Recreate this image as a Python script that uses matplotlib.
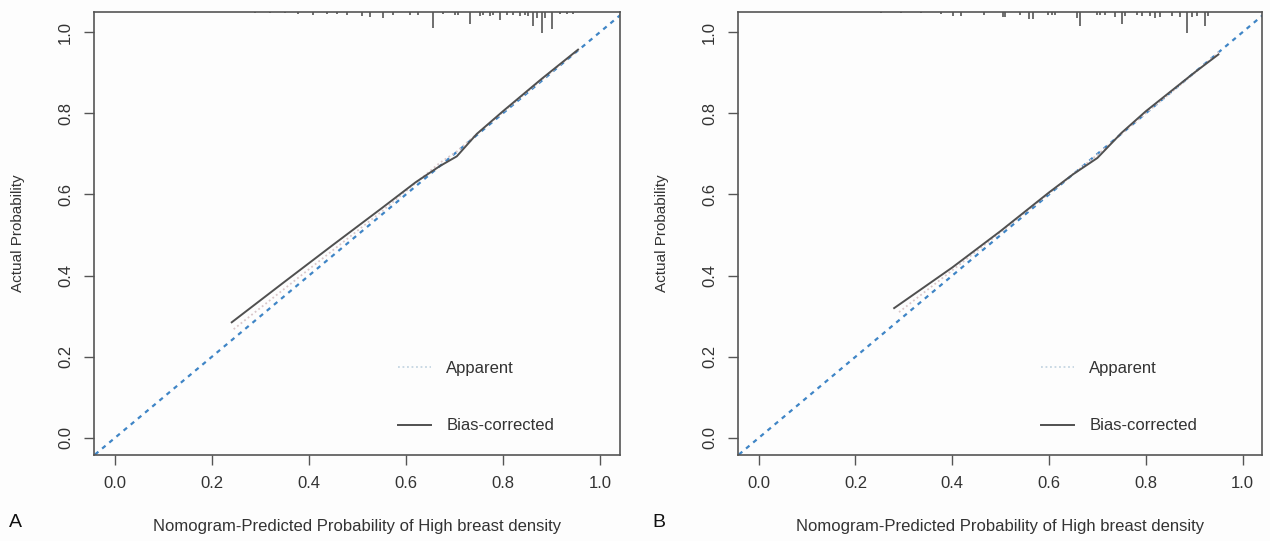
import numpy as np
import matplotlib.pyplot as plt

plt.rcParams['font.family'] = ['Liberation Sans', 'DejaVu Sans']

# calibration curves
a_bias_x = [0.241, 0.35, 0.45, 0.55, 0.62, 0.67, 0.705, 0.746, 0.80, 0.88, 0.955]
a_bias_y = [0.285, 0.385, 0.476, 0.566, 0.630, 0.670, 0.694, 0.749, 0.805, 0.885, 0.957]
a_app_x = [0.245, 0.35, 0.45, 0.55, 0.62, 0.67, 0.705, 0.746, 0.80, 0.88, 0.955]
a_app_y = [0.268, 0.368, 0.463, 0.558, 0.628, 0.678, 0.706, 0.749, 0.803, 0.883, 0.955]

b_bias_x = [0.28, 0.40, 0.50, 0.60, 0.65, 0.70, 0.75, 0.80, 0.90, 0.95]
b_bias_y = [0.32, 0.42, 0.51, 0.605, 0.65, 0.69, 0.752, 0.805, 0.90, 0.945]
b_app_x = [0.29, 0.40, 0.50, 0.60, 0.70, 0.80, 0.90, 0.955]
b_app_y = [0.31, 0.413, 0.507, 0.603, 0.698, 0.80, 0.898, 0.955]

# rug of predicted values along the top (position, relative frequency)
rug_a_x = [0.289, 0.320, 0.351, 0.377, 0.408, 0.437, 0.458, 0.478, 0.509, 0.526, 0.553, 0.573,
           0.608, 0.625, 0.656, 0.676, 0.701, 0.707, 0.732, 0.753, 0.759, 0.773, 0.779, 0.794,
           0.808, 0.821, 0.835, 0.845, 0.852, 0.862, 0.870, 0.880, 0.887, 0.901, 0.918, 0.932, 0.944]
rug_a_n = [1, 1, 1, 2, 3, 2, 2, 3, 4, 5, 6, 3,
           3, 3, 16, 2, 3, 3, 12, 4, 3, 4, 3, 8,
           3, 3, 4, 3, 4, 14, 6, 21, 6, 17, 2, 2, 2]
rug_b_x = [0.253, 0.294, 0.335, 0.377, 0.401, 0.418, 0.465, 0.504, 0.510, 0.541, 0.558, 0.566,
           0.597, 0.607, 0.613, 0.658, 0.665, 0.700, 0.706, 0.716, 0.737, 0.751, 0.757, 0.782,
           0.792, 0.809, 0.819, 0.829, 0.854, 0.870, 0.885, 0.895, 0.905, 0.922, 0.928]
rug_b_n = [1, 1, 1, 2, 4, 4, 3, 5, 5, 3, 7, 7,
           3, 3, 3, 6, 14, 3, 3, 3, 5, 12, 4, 3,
           4, 4, 6, 5, 4, 5, 21, 5, 4, 14, 4]

xticks = [0.0, 0.2, 0.4, 0.6, 0.8, 1.0]
xlabel = 'Nomogram-Predicted Probability of High breast density'
ylabel = 'Actual Probability'

frame = '#555555'
txt = '#333333'

fig = plt.figure(figsize=(12.7, 5.41), dpi=100)
fig.patch.set_facecolor('#fdfdfd')

panels = [
    ('A', [0.074, 0.159, 0.414, 0.819], a_app_x, a_app_y, a_bias_x, a_bias_y, rug_a_x, rug_a_n),
    ('B', [0.581, 0.159, 0.413, 0.819], b_app_x, b_app_y, b_bias_x, b_bias_y, rug_b_x, rug_b_n),
]

for letter, pos, ax_x, ax_y, bx, by, rx, rn in panels:
    ax = fig.add_axes(pos)
    ax.set_facecolor('#fdfdfd')
    ax.set_xlim(-0.043, 1.041)
    ax.set_ylim(-0.042, 1.05)
    top = 1.05

    # ideal line
    ax.plot([-0.1, 1.1], [-0.1, 1.1], color='#3f85c6', lw=1.6, ls=(0, (2, 2.2)))
    ax.plot(ax_x, ax_y, color='#d9c6c8', lw=1.3, ls=(0, (1, 1.5)), label='Apparent')
    ax.plot(bx, by, color='#505050', lw=1.4, label='Bias-corrected')

    # frequency rug at the top
    h = np.array(rn) * 0.0025
    ax.vlines(rx, top - h, top, color='#555555', lw=1.2)

    leg = ax.legend(loc='lower left', bbox_to_anchor=(0.562, 0.03), frameon=False,
                    borderpad=0, fontsize=12, handlelength=2.0, handletextpad=0.9,
                    labelspacing=2.55, labelcolor=txt)
    leg.get_lines()[0].set_color('#c5d6e2')

    ax.set_xticks(xticks)
    ax.set_yticks(xticks)
    ax.set_xticklabels(['%.1f' % t for t in xticks])
    ax.set_yticklabels(['%.1f' % t for t in xticks], rotation=90, va='center')
    ax.tick_params(direction='out', length=7, width=1.0, color=frame, labelsize=12,
                   labelcolor=txt, pad=8)
    for s in ax.spines.values():
        s.set_color(frame)
        s.set_linewidth(1.2)

    cx = pos[0] + pos[2] / 2
    fig.text(cx, 0.026, xlabel, ha='center', va='center', fontsize=12, color=txt)
    fig.text(pos[0] - 0.06, pos[1] + pos[3] / 2, ylabel, rotation=90, ha='center',
             va='center', fontsize=11, color=txt)
    fig.text(pos[0] - 0.062, 0.034, letter, ha='center', va='center', fontsize=14, color='#111111')

fig.savefig('out.png', dpi=100, facecolor=fig.get_facecolor())
